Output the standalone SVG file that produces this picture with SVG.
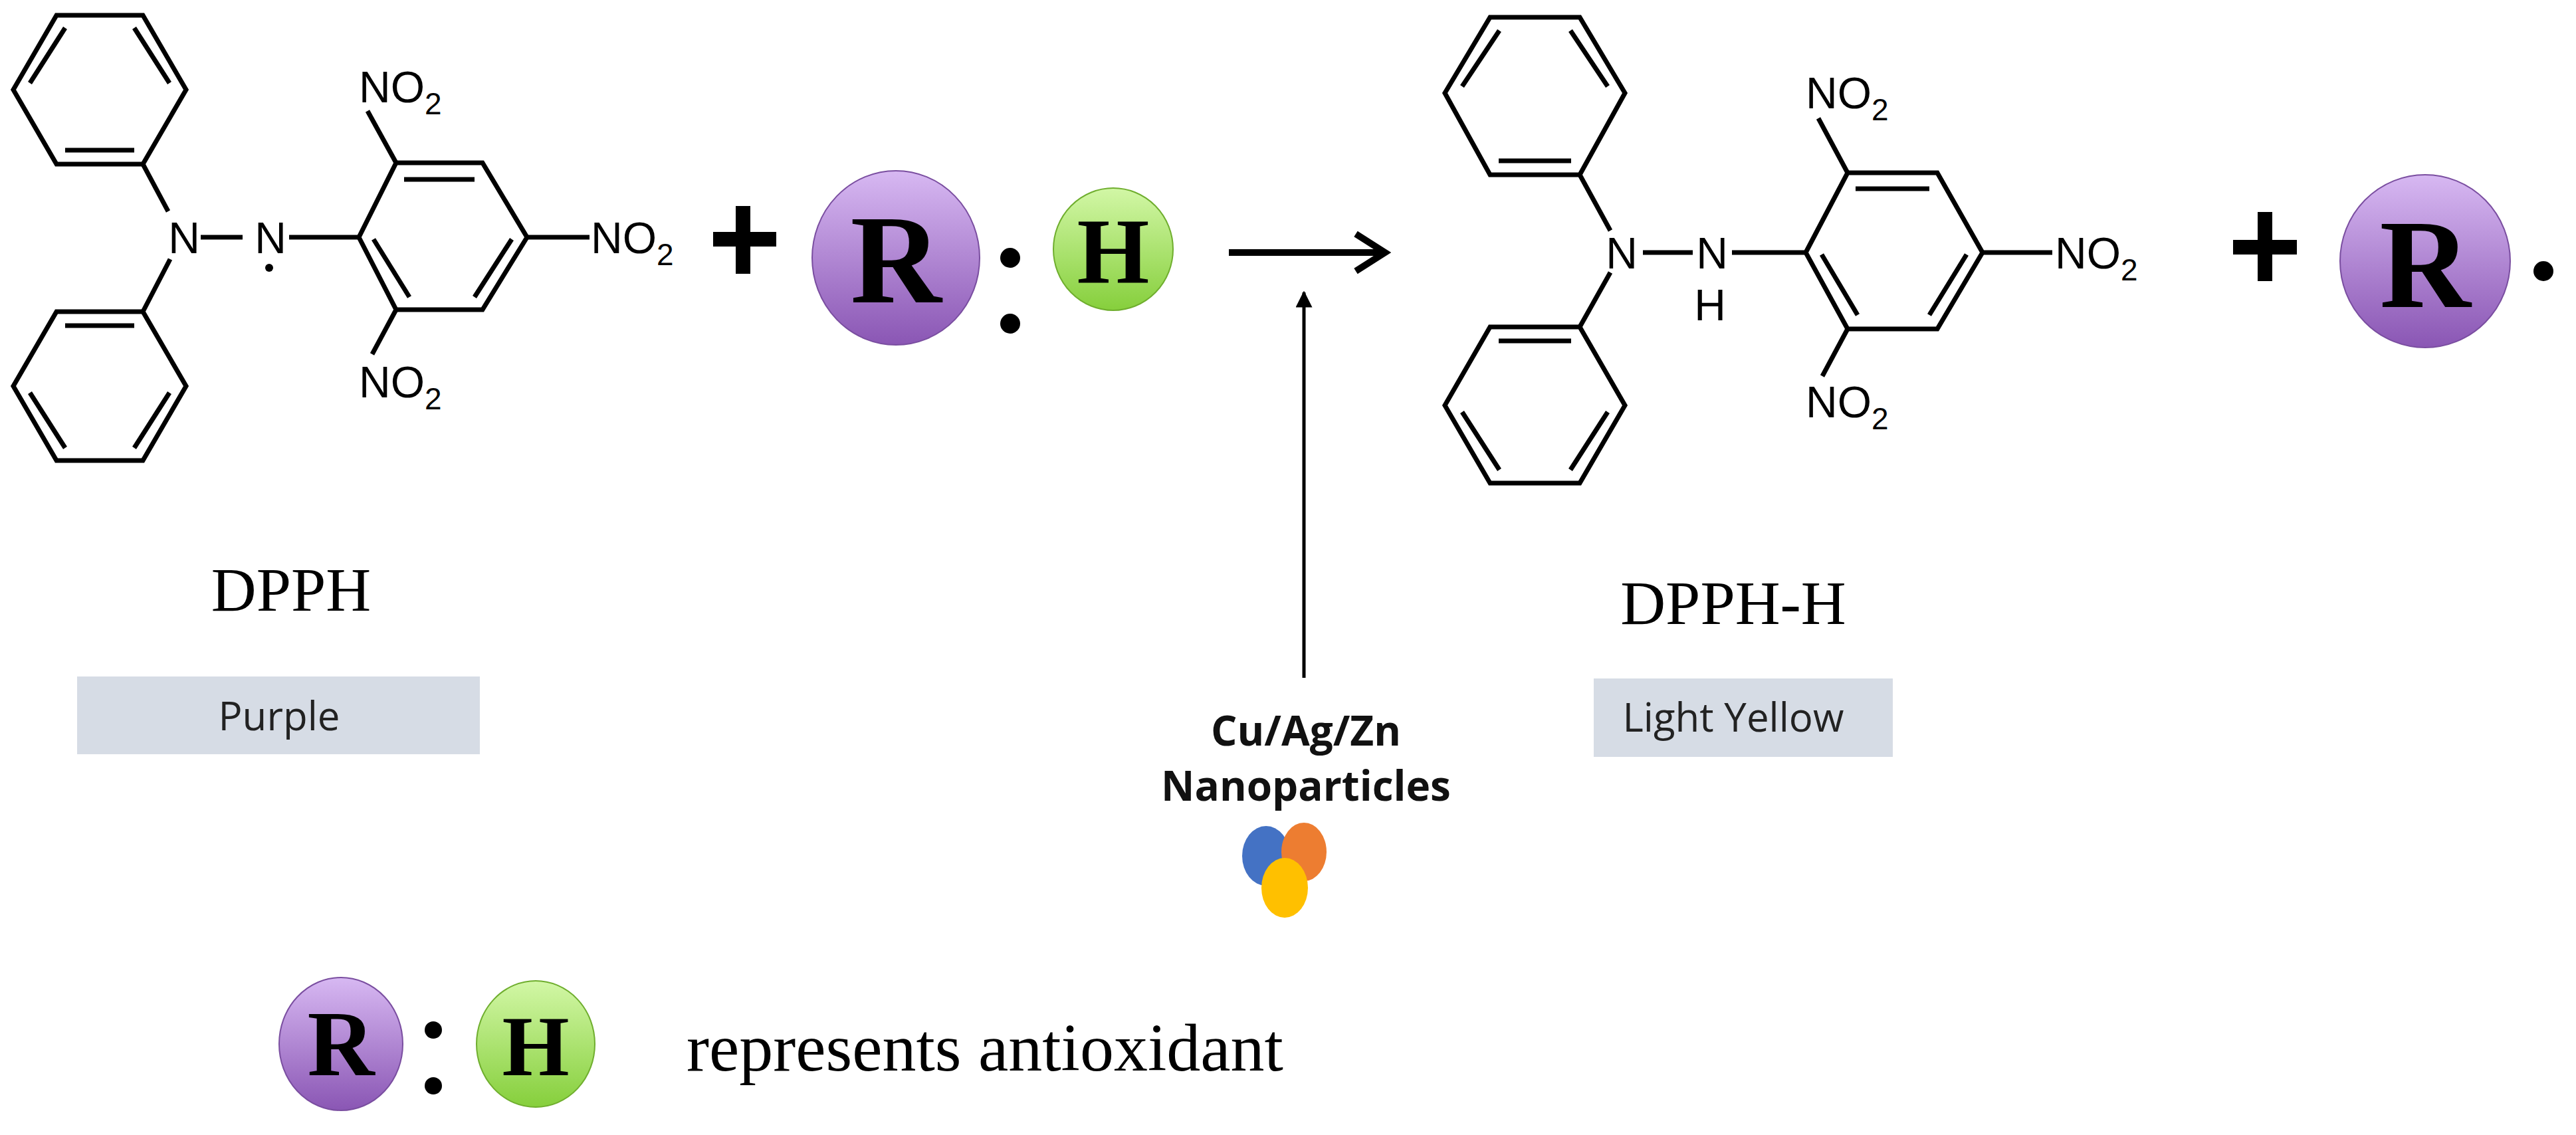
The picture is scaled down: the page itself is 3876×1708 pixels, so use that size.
<svg xmlns="http://www.w3.org/2000/svg" width="3876" height="1708" viewBox="0 0 3876 1708">
<defs>
<linearGradient id="gp" x1="0" y1="0" x2="0" y2="1"><stop offset="0" stop-color="#d7b8f2"/><stop offset="1" stop-color="#8a56b4"/></linearGradient>
<linearGradient id="gg" x1="0" y1="0" x2="0" y2="1"><stop offset="0" stop-color="#d2f7a6"/><stop offset="1" stop-color="#86cf3c"/></linearGradient>
<marker id="tri" viewBox="0 0 10 10" refX="9" refY="5" markerWidth="5" markerHeight="5" orient="auto"><path d="M0,0 L10,5 L0,10 z" fill="#000"/></marker>
</defs>
<style>
.b{stroke:#000;stroke-width:7;fill:none;stroke-linejoin:miter}
.at{font-family:"Liberation Sans",Arial,sans-serif;font-size:66px;fill:#000}
.sub{font-size:46px}
.ser{font-family:"Liberation Serif","Times New Roman",serif;fill:#000}
.lbl{font-family:"Open Sans",sans-serif;font-size:60px;fill:#222;text-anchor:middle}
.bold{font-family:"Open Sans",sans-serif;font-size:62px;font-weight:bold;fill:#111;text-anchor:middle}
.pc{fill:url(#gp);stroke:#7a4ea0;stroke-width:2}
.gc{fill:url(#gg);stroke:#6fae2e;stroke-width:2}
.big{font-family:"Liberation Serif",serif;font-weight:bold;text-anchor:middle;fill:#000}
</style>
<rect width="3876" height="1708" fill="#fff"/>

<g id="dpph">
<polygon class="b" points="20,135 85,23 215,23 280,135 215,247 85,247"/>
<line class="b" x1="45" y1="125" x2="98" y2="42"/><line class="b" x1="202" y1="42" x2="255" y2="125"/><line class="b" x1="98" y1="226" x2="202" y2="226"/>
<polygon class="b" points="20,581 85,469 215,469 280,581 215,693 85,693"/>
<line class="b" x1="98" y1="490" x2="202" y2="490"/><line class="b" x1="45" y1="591" x2="98" y2="674"/><line class="b" x1="255" y1="591" x2="202" y2="674"/>
<line class="b" x1="215" y1="247" x2="253" y2="318"/><line class="b" x1="256" y1="390" x2="215" y2="469"/>
<text class="at" x="277" y="381" text-anchor="middle">N</text>
<line class="b" x1="302" y1="357" x2="365" y2="357"/>
<text class="at" x="407" y="381" text-anchor="middle">N</text>
<circle cx="405" cy="403" r="6" fill="#000"/>
<line class="b" x1="435" y1="357" x2="540" y2="357"/>
<polygon class="b" points="540,357 596,245 726,245 793,357 726,466 596,466"/>
<line class="b" x1="608" y1="270" x2="714" y2="270"/><line class="b" x1="770" y1="360" x2="714" y2="447"/><line class="b" x1="562" y1="360" x2="616" y2="447"/>
<line class="b" x1="596" y1="245" x2="553" y2="167"/>
<text class="at" x="540" y="154">NO<tspan class="sub" dy="18">2</tspan></text>
<line class="b" x1="793" y1="357" x2="887" y2="357"/>
<text class="at" x="889" y="381">NO<tspan class="sub" dy="18">2</tspan></text>
<line class="b" x1="596" y1="466" x2="560" y2="533"/>
<text class="at" x="540" y="598">NO<tspan class="sub" dy="18">2</tspan></text>
<text class="ser" x="438" y="919" font-size="94" text-anchor="middle">DPPH</text>
<rect x="116" y="1018" width="606" height="117" fill="#d6dce5"/>
<text class="lbl" x="420" y="1099">Purple</text>
</g>

<g id="plus1"><line x1="1118" y1="310" x2="1118" y2="412" stroke="#000" stroke-width="22"/><line x1="1073" y1="360" x2="1168" y2="360" stroke="#000" stroke-width="22"/></g>

<g id="antioxidant">
<ellipse class="pc" cx="1348" cy="388" rx="126" ry="131"/>
<text class="big" x="1348" y="455" font-size="190">R</text>
<circle cx="1520" cy="388" r="15" fill="#000"/><circle cx="1520" cy="487" r="15" fill="#000"/>
<ellipse class="gc" cx="1675" cy="375" rx="90" ry="92"/>
<text class="big" x="1675" y="425" font-size="140">H</text>
</g>

<g id="dpphh">
<polygon class="b" points="2174,140 2242,26 2377,26 2445,140 2377,263 2242,263"/>
<line class="b" x1="2200" y1="130" x2="2256" y2="46"/><line class="b" x1="2363" y1="46" x2="2419" y2="130"/><line class="b" x1="2255" y1="242" x2="2364" y2="242"/>
<polygon class="b" points="2174,610 2242,492 2377,492 2445,610 2377,727 2242,727"/>
<line class="b" x1="2255" y1="513" x2="2364" y2="513"/><line class="b" x1="2200" y1="620" x2="2256" y2="707"/><line class="b" x1="2419" y1="620" x2="2363" y2="707"/>
<line class="b" x1="2377" y1="263" x2="2423" y2="347"/><line class="b" x1="2423" y1="410" x2="2377" y2="492"/>
<text class="at" x="2440" y="404" text-anchor="middle">N</text>
<line class="b" x1="2472" y1="380" x2="2547" y2="380"/>
<text class="at" x="2576" y="404" text-anchor="middle">N</text>
<text class="at" x="2573" y="482" text-anchor="middle" font-size="60">H</text>
<line class="b" x1="2606" y1="380" x2="2717" y2="380"/>
<polygon class="b" points="2717,380 2780,260 2915,260 2983,380 2915,495 2780,495"/>
<line class="b" x1="2792" y1="284" x2="2903" y2="284"/><line class="b" x1="2959" y1="383" x2="2903" y2="474"/><line class="b" x1="2741" y1="383" x2="2795" y2="474"/>
<line class="b" x1="2780" y1="260" x2="2736" y2="178"/>
<text class="at" x="2717" y="163">NO<tspan class="sub" dy="18">2</tspan></text>
<line class="b" x1="2983" y1="380" x2="3088" y2="380"/>
<text class="at" x="3092" y="404">NO<tspan class="sub" dy="18">2</tspan></text>
<line class="b" x1="2780" y1="495" x2="2742" y2="566"/>
<text class="at" x="2717" y="628">NO<tspan class="sub" dy="18">2</tspan></text>
<text class="ser" x="2608" y="939" font-size="94" text-anchor="middle">DPPH-H</text>
<rect x="2398" y="1021" width="450" height="118" fill="#d6dce5"/>
<text class="lbl" x="2608" y="1101">Light Yellow</text>
</g>

<g id="plus2"><line x1="3408" y1="319" x2="3408" y2="423" stroke="#000" stroke-width="22"/><line x1="3360" y1="372" x2="3456" y2="372" stroke="#000" stroke-width="22"/></g>

<g id="radical">
<ellipse class="pc" cx="3649" cy="393" rx="128" ry="130"/>
<text class="big" x="3649" y="462" font-size="190">R</text>
<circle cx="3827" cy="408" r="15" fill="#000"/>
</g>

<g id="catalyst">
<text class="bold" x="1965" y="1122">Cu/Ag/Zn</text>
<text class="bold" x="1965" y="1205">Nanoparticles</text>
<ellipse cx="1905" cy="1288" rx="36" ry="45" fill="#4472c4"/>
<ellipse cx="1962" cy="1282" rx="34" ry="44" fill="#ed7d31"/>
<ellipse cx="1933" cy="1336" rx="35" ry="45" fill="#ffc000"/>
</g>

<g id="connectors">
<line x1="1849" y1="380" x2="2080" y2="380" stroke="#000" stroke-width="10"/>
<polyline points="2040,352 2084,380 2040,408" fill="none" stroke="#000" stroke-width="10"/>
<line x1="1962" y1="1020" x2="1962" y2="440" stroke="#000" stroke-width="5" marker-end="url(#tri)"/>
</g>

<g id="legend">
<ellipse class="pc" cx="513" cy="1571" rx="93" ry="100"/>
<text class="big" x="513" y="1618" font-size="140">R</text>
<circle cx="652" cy="1550" r="13" fill="#000"/><circle cx="652" cy="1634" r="13" fill="#000"/>
<ellipse class="gc" cx="806" cy="1571" rx="89" ry="95"/>
<text class="big" x="806" y="1618" font-size="130">H</text>
<text class="ser" x="1033" y="1611" font-size="102">represents antioxidant</text>
</g>
</svg>
